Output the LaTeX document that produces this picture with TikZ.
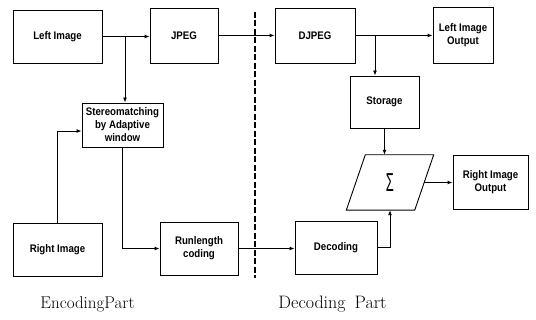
\documentclass[tikz,border=0pt]{standalone}
\usepackage{fontspec}
\newfontfamily\boxfont[FakeStretch=0.88]{Liberation Sans}
\newfontfamily\sigfont{Liberation Sans}
\usetikzlibrary{arrows.meta}
\begin{document}
\begin{tikzpicture}[x=1pt,y=-1pt,
  blk/.style={draw,line width=0.9pt,inner sep=0pt,align=center,
    font=\boxfont\bfseries\fontsize{11}{13}\selectfont},
  arr/.style={line width=0.9pt,-{Latex[length=5pt,width=4pt]}},
  ln/.style={line width=0.9pt},
  lbl/.style={font=\fontsize{17}{17}\selectfont,anchor=base}]
\useasboundingbox (0,0) rectangle (536,320);
\node[blk,minimum width=89,minimum height=53] (li) at (57.5,36.5) {Left Image};
\node[blk,minimum width=68,minimum height=55] (jpeg) at (184,35.5) {JPEG};
\node[blk,minimum width=80,minimum height=55] (djpeg) at (315,35.5) {DJPEG};
\node[blk,minimum width=60,minimum height=56] (lio) at (463,35) {Left Image\\Output};
\node[blk,minimum width=81,minimum height=44] (st) at (122.5,125) {Stereomatching\\by Adaptive\\window};
\node[blk,minimum width=69,minimum height=52] (sto) at (384.5,102) {Storage};
\node[blk,minimum width=89,minimum height=53] (ri) at (57.5,249.5) {Right Image};
\node[blk,minimum width=78,minimum height=53] (rl) at (199,248.5) {Runlength\\coding};
\node[blk,minimum width=82,minimum height=53] (dec) at (336,247.5) {Decoding};
\node[blk,minimum width=75,minimum height=54] (rio) at (490.5,182) {Right Image\\Output};
\node[minimum width=68,minimum height=55,inner sep=0pt] (sig) at (390,182.5)
  {\sigfont\fontsize{26}{26}\selectfont\scalebox{0.5}[1]{Σ}};
\draw[ln] ([xshift=9.5]sig.north west) -- ([xshift=9.5]sig.north east)
  -- ([xshift=-9.5]sig.south east) -- ([xshift=-9.5]sig.south west) -- cycle;
% dashed divider
\coordinate (dtop) at (255,12);
\coordinate (dbot) at (255,278);
\draw[line width=1.3pt,dash pattern=on 6pt off 2.5pt] (dtop) -- (dbot);
% connectors
\coordinate (b1) at (125,36.5);
\coordinate (b2) at (375,35.5);
\draw[arr] (li.east) -- (jpeg.west |- li.east);
\draw[arr] (b1) -- (b1 |- st.north);
\draw[arr] (jpeg.east) -- (djpeg.west);
\draw[arr] (djpeg.east) -- (lio.west |- djpeg.east);
\draw[arr] (b2) -- (b2 |- sto.north);
\coordinate (rin) at (0,131);
\draw[arr] (ri.north) |- (st.west |- rin);
\draw[arr] (st.south) |- (rl.west);
\draw[arr] (rl.east) -- (dec.west |- rl.east);
\draw[arr] (sto.south) -- (sto.south |- sig.north);
\draw[arr] (dec.east) -| (sig.south);
\draw[arr] (sig.east) -- (rio.west |- sig.east);
% labels
\node[lbl] (enc) at (87.5,309) {EncodingPart};
\node[lbl] (decp) at (332.5,309) {\fontsize{18}{18}\selectfont Decoding\hspace{0.5em}Part};
\end{tikzpicture}
\end{document}
